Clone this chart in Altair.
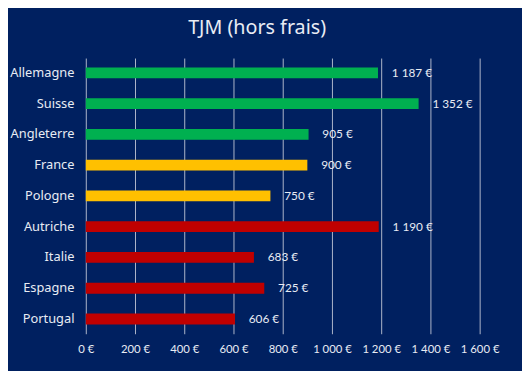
import altair as alt
import pandas as pd

countries = ["Allemagne", "Suisse ", "Angleterre", "France", "Pologne",
             "Autriche", "Italie", "Espagne", "Portugal"]
values = [1187, 1352, 905, 900, 750, 1190, 683, 725, 606]
groups = ["vert", "vert", "vert", "jaune", "jaune",
          "rouge", "rouge", "rouge", "rouge"]
group_names = ["vert", "jaune", "rouge"]
group_colors = ["#00B050", "#FFC000", "#C00000"]
x_ticks = [0, 200, 400, 600, 800, 1000, 1200, 1400, 1600]


def fmt(v):
    return f"{v:,}".replace(",", " ") + " €"


df = pd.DataFrame({
    "pays": countries,
    "tjm": values,
    "groupe": groups,
    "label": [fmt(v) for v in values],
})

BG = "#002060"
FONT = "Lato"
FONT2 = "Noto Sans"

y_enc = alt.Y(
    "pays:N",
    sort=countries,
    title=None,
    scale=alt.Scale(paddingInner=0.648, paddingOuter=0.304),
    axis=alt.Axis(
        labelColor="#E8ECF4", labelFont=FONT2, labelFontSize=13,
        labelPadding=12, ticks=False, domain=False, grid=False,
    ),
)

x_enc = alt.X(
    "tjm:Q",
    title=None,
    scale=alt.Scale(domain=[0, 1600], nice=False),
    axis=alt.Axis(
        values=x_ticks,
        labelExpr="replace(format(datum.value, ','), ',', ' ') + ' €'",
        labelColor="#E8ECF4", labelFont=FONT, labelFontSize=11.5,
        labelPadding=10, ticks=False, domain=False, labelOverlap=False,
        labelFlush=False,
        grid=True, gridColor="#AEB6CA", gridWidth=1,
    ),
)

bars = alt.Chart(df).mark_bar().encode(
    x=x_enc,
    y=y_enc,
    color=alt.Color("groupe:N",
                    scale=alt.Scale(domain=group_names, range=group_colors),
                    legend=None),
)

text = alt.Chart(df).mark_text(
    align="left", baseline="middle", dx=14, font=FONT, fontSize=12,
    color="#E8ECF4",
).encode(
    x="tjm:Q",
    y=alt.Y("pays:N", sort=countries),
    text="label:N",
)

chart = alt.layer(bars, text).properties(
    width=400,
    height=280,
    title=alt.TitleParams(
        "TJM (hors frais)", color="#E8ECF4", font=FONT2, fontSize=20,
        fontWeight="normal", anchor="middle", dx=-26, offset=20,
    ),
    autosize=alt.AutoSizeParams(type="none"),
    padding={"left": 79, "top": 48, "right": 43, "bottom": 35},
    background=BG,
).configure_view(stroke=None)

chart.save("out.html", embed_options={"renderer": "svg", "actions": False})
